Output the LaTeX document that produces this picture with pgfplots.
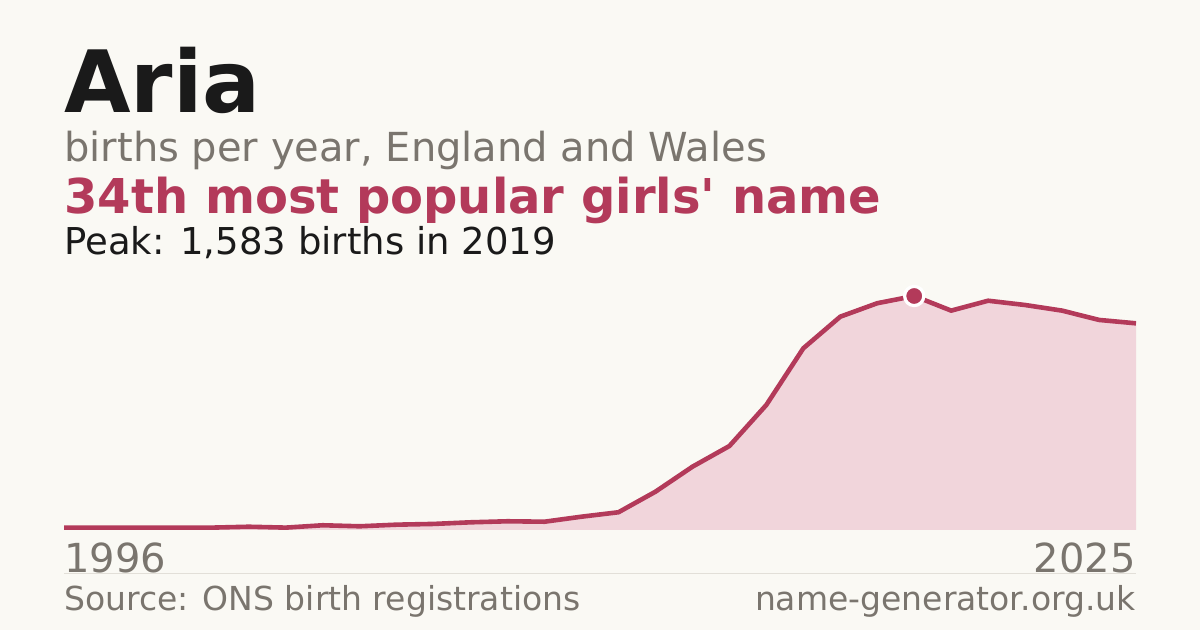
\documentclass[border=0pt]{standalone}
\usepackage{fontspec}
\setmainfont{DejaVu Sans}
\usepackage{pgfplots}
\pgfplotsset{compat=1.18}

\definecolor{bg}{HTML}{FAF9F4}
\definecolor{ink}{HTML}{1A1A1A}
\definecolor{muted}{HTML}{7A756E}
\definecolor{rose}{HTML}{B33A5A}
\definecolor{rosefill}{HTML}{F1D5DB}
\definecolor{rule}{HTML}{E2DFD8}

\begin{document}
\begin{tikzpicture}
  % page is 1200x630 px, 1px = 0.5pt
  \fill[bg] (0,0) rectangle (600pt,315pt);

  \node[anchor=base west, inner sep=0, text=ink, font=\fontsize{43pt}{43pt}\selectfont\bfseries] at (32pt,258.5pt) {Aria};
  \node[anchor=base west, inner sep=0, text=muted, font=\fontsize{20pt}{20pt}\selectfont] at (32pt,234pt) {births per year, England and Wales};
  \node[anchor=base west, inner sep=0, text=rose, font=\fontsize{24pt}{24pt}\selectfont\bfseries] at (32pt,208pt) {34th most popular girls\textquotesingle{} name};
  \node[anchor=base west, inner sep=0, text=ink, font=\fontsize{18.5pt}{19pt}\selectfont] at (32pt,187.5pt) {Peak: 1,583 births in 2019};

  \begin{axis}[
      at={(32pt,50pt)}, anchor=origin,
      scale only axis, width=536pt, height=117pt,
      xmin=1996, xmax=2025, ymin=0, ymax=1583,
      axis lines=none, xtick=\empty, ytick=\empty,
      clip=false
    ]
    \addplot[fill=rosefill, draw=none] coordinates {
      (1996,16) (1997,16) (1998,16) (1999,16) (2000,16)
      (2001,22) (2002,16) (2003,32) (2004,25) (2005,36)
      (2006,41) (2007,52) (2008,59) (2009,56) (2010,90)
      (2011,120) (2012,259) (2013,428) (2014,568) (2015,846)
      (2016,1229) (2017,1443) (2018,1534) (2019,1583) (2020,1484)
      (2021,1551) (2022,1522) (2023,1484) (2024,1421) (2025,1398)
    } \closedcycle;
    \addplot[draw=rose, line width=2.3pt, line join=round] coordinates {
      (1996,16) (1997,16) (1998,16) (1999,16) (2000,16)
      (2001,22) (2002,16) (2003,32) (2004,25) (2005,36)
      (2006,41) (2007,52) (2008,59) (2009,56) (2010,90)
      (2011,120) (2012,259) (2013,428) (2014,568) (2015,846)
      (2016,1229) (2017,1443) (2018,1534) (2019,1583) (2020,1484)
      (2021,1551) (2022,1522) (2023,1484) (2024,1421) (2025,1398)
    };
    \addplot[only marks, mark=*, mark size=4.8pt, draw=white, fill=rose, line width=1.6pt]
      coordinates {(2019,1583)};

    \node[anchor=base west, inner sep=0, text=muted, font=\fontsize{20pt}{20pt}\selectfont]
      at (axis cs:1996,0) [yshift=-21.5pt] {1996};
    \node[anchor=base east, inner sep=0, text=muted, font=\fontsize{20pt}{20pt}\selectfont]
      at (axis cs:2025,0) [yshift=-21.5pt] {2025};
  \end{axis}

  \draw[rule, line width=0.5pt] (32pt,28pt) -- (568pt,28pt);
  \node[anchor=base west, inner sep=0, text=muted, font=\fontsize{16.5pt}{17pt}\selectfont] at (32pt,9.5pt) {Source: ONS birth registrations};
  \node[anchor=base east, inner sep=0, text=muted, font=\fontsize{16.5pt}{17pt}\selectfont] at (568pt,9.5pt) {name-generator.org.uk};
\end{tikzpicture}
\end{document}
